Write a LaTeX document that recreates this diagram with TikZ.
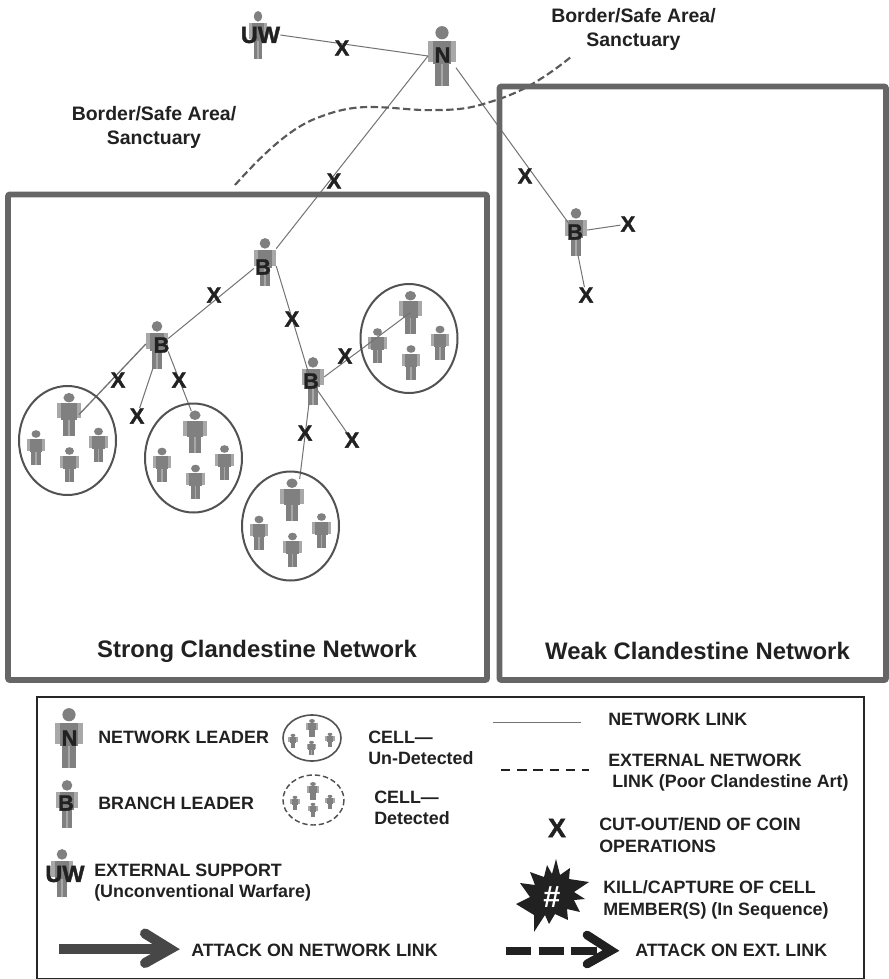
\documentclass[tikz,border=0pt]{standalone}
\usepackage{fontspec}
\setmainfont{Liberation Sans}
\newfontfamily\heavy[UprightFont={* Bold},FakeBold=1.6]{Liberation Sans}
\pgfdeclarelayer{icons}\pgfdeclarelayer{links}
\pgfsetlayers{icons,links,main}
\definecolor{ink}{gray}{0.13}
\definecolor{framec}{gray}{0.40}
\definecolor{iconc}{gray}{0.50}
\definecolor{iconl}{gray}{0.66}
\tikzset{
  frameline/.style={draw=framec,line width=4.4pt,rounded corners=1.5pt},
  cellline/.style={draw=black!68,line width=1.5pt},
  link/.style={draw=black!55,line width=0.75pt},
  border/.style={draw=black!65,line width=1.6pt,dash pattern=on 5.5pt off 2.6pt},
  personbox/.style={inner sep=0pt,outer sep=0pt,rectangle},
  xmark/.style={inner sep=0pt,text=ink,font=\heavy\fontsize{16.5}{16}\selectfont},
  tag/.style={inner sep=0pt,text=ink,font=\heavy\fontsize{16.5}{16}\selectfont},
  tagwide/.style={inner sep=0pt,text=ink,font=\heavy\fontsize{17.6}{18}\selectfont},
  title/.style={inner sep=0pt,text=ink,align=center,font=\bfseries\fontsize{14.6}{18}\selectfont},
  head/.style={inner sep=0pt,text=ink,font=\bfseries\fontsize{17.9}{20}\selectfont},
  lg/.style={inner sep=0pt,anchor=west,align=left,text=ink,font=\bfseries\fontsize{13.4}{16.2}\selectfont},
  fatarrow/.style={draw=black!72,line width=7.5pt},
  fatink/.style={draw=ink,line width=6.5pt}
}
\newcommand{\person}[5][1]{% [xscale] name, x, y, scale
  \node[personbox,minimum width={#5*21pt},minimum height={#5*44pt}] (#2) at (#3,#4) {};
  \begin{pgfonlayer}{icons}
  \begin{scope}[shift={(#3,#4)},scale=#5,xscale=#1]
    \fill[iconc] (0,-23.3) circle (6.6);
    \fill[iconl] (-13.8,-15.5) rectangle (13.8,5.5);
    \fill[iconl] (-6.8,5) rectangle (6.8,29.5);
    \fill[iconc] (-9,-15.5) rectangle (9,7.5);
    \fill[iconc] (-6.8,7) rectangle (-0.8,29.5);
    \fill[iconc] (0.8,7) rectangle (6.8,29.5);
  \end{scope}
  \end{pgfonlayer}
}
\newcommand{\cellgroup}[3]{% name, x, y
  \begin{scope}[shift={(#2,#3)}]
    \draw[cellline] (0,0) ellipse (48.5 and 54.5);
    \person[1.17]{#1big}{1.5}{-26}{0.72}
    \person[1.17]{#1l}{-31.5}{7}{0.58}
    \person[1.17]{#1b}{2}{24}{0.58}
    \person[1.17]{#1r}{31}{4.5}{0.58}
  \end{scope}
}
\newcommand{\minicell}[9]{% name big(x,y) l(x,y) b(x,y) r(x,y)
  \person[1.45]{#1big}{#2}{#3}{0.3}
  \person[1.5]{#1l}{#4}{#5}{0.24}
  \person[1.5]{#1b}{#6}{#7}{0.24}
  \person[1.5]{#1r}{#8}{#9}{0.24}
}
\begin{document}
\begin{tikzpicture}[x=0.75pt,y=-0.75pt]
\useasboundingbox (0,0) rectangle (889,979);
\begin{pgfonlayer}{icons}
\fill[white] (0,0) rectangle (889,979);
\end{pgfonlayer}

% frames
\draw[frameline] (8,194.5) rectangle (487,680);
\draw[frameline] (499.5,86.5) rectangle (886,680);

% people
\person[0.8]{uw}{258}{35}{0.8}
\person{n}{442}{56}{1}
\person{br}{576}{232}{0.8}
\person{bt}{265}{262}{0.8}
\person{bl}{157}{345}{0.8}
\person{bm}{313}{381}{0.8}
\cellgroup{ca}{67.5}{440.5}
\cellgroup{cb}{193.5}{458}
\cellgroup{cc}{290.5}{526}
\cellgroup{cd}{409}{338.5}

% labels on people
\node[tagwide] (luw) at (260.5,35) {UW};
\node[tag] (ln) at (442.5,55) {N};
\node[tag] (lbr) at (575,232) {B};
\node[tag] (lbt) at (263,267) {B};
\node[tag] (lbl) at (161.5,345) {B};
\node[tag] (lbm) at (311,381) {B};

% cut-outs
\node[xmark] (x1) at (342,48) {X};
\node[xmark] (x2) at (334,181) {X};
\node[xmark] (x3) at (525,176) {X};
\node[xmark] (x4) at (628,224) {X};
\node[xmark] (x5) at (586,295) {X};
\node[xmark] (x6) at (214,295) {X};
\node[xmark] (x7) at (292,319) {X};
\node[xmark] (x8) at (345,356) {X};
\node[xmark] (x9) at (118,380) {X};
\node[xmark] (x10) at (137,416) {X};
\node[xmark] (x11) at (179,380) {X};
\node[xmark] (x12) at (305,433) {X};
\node[xmark] (x13) at (352,440) {X};

% links
\begin{pgfonlayer}{links}
\draw[link] (luw.east) -- (n.west);
\draw[link] (n.west) -- (bt.50);
\draw[link] (n.-40) -- (lbr);
\draw[link] (br.10) -- (x4);
\draw[link] (br.-85) -- (x5);
\draw[link] (bt.-150) -- (bl.30);
\draw[link] (bt.-20) -- (lbm);
\draw[link,line width=1pt] (bl.175) -- (cabig.east);
\draw[link] (bl.-100) -- (x10);
\draw[link] (bl.-30) -- (cbbig.100);
\draw[link] (bm.20) -- (cdbig.center);
\draw[link] (lbm) -- (x13);
\draw[link] (bm.-100) -- (ccbig.70);
\coordinate (bd0) at (235,185);
\coordinate (bd1) at (317,118);
\coordinate (bd2) at (370,107);
\coordinate (bd3) at (437,110);
\coordinate (bd4) at (480,105);
\coordinate (bd5) at (527,87);
\coordinate (bd6) at (572,56);
\draw[border] (bd0) .. controls (262,155) and (290,128) .. (bd1)
  .. controls (335,111) and (350,107) .. (bd2)
  .. controls (395,107) and (415,111) .. (bd3)
  .. controls (452,110) and (466,109) .. (bd4)
  .. controls (497,100) and (510,96) .. (bd5)
  .. controls (545,77) and (560,66) .. (bd6);
\end{pgfonlayer}

% titles
\node[title] (t1) at (633.5,29) {Border/Safe Area/\\Sanctuary};
\node[title] (t2) at (154,127) {Border/Safe Area/\\Sanctuary};
\node[head] (t3) at (257,651) {Strong Clandestine Network};
\node[head] (t4) at (697.5,651) {Weak Clandestine Network};

% legend
\draw[draw=black!85,line width=1pt] (37,697) rectangle (864,979);
\person{kn}{69}{738}{1}
\node[tag] (kln) at (69.5,738) {N};
\person{kb}{67}{804}{0.8}
\node[tag] (klb) at (66,803) {B};
\person{kuw}{62}{873}{0.8}
\node[tagwide] (kluw) at (65,874) {UW};
\node[lg] (k1) at (98,737) {NETWORK LEADER};
\node[lg] (k2) at (98,803) {BRANCH LEADER};
\node[lg] (k3) at (94,882.5) {EXTERNAL SUPPORT\\(Unconventional Warfare)};

\draw[cellline,line width=1.2pt] (312,738) ellipse (29 and 23);
\minicell{ka}{312}{728}{293}{741}{311.5}{748}{330}{740}
\draw[cellline,line width=1.1pt,dash pattern=on 4pt off 2.2pt] (313.5,800) ellipse (30.5 and 25);
\minicell{kd}{313}{791}{295}{803}{313}{810}{330}{802}
\node[lg] (k4) at (368,748) {CELL---\\Un-Detected};
\node[lg] (k5) at (374,808) {CELL---\\Detected};

\node[inner sep=0pt] (a0) at (492,722) {};
\node[inner sep=0pt] (a1) at (582,722) {};
\draw[link] (a0) -- (a1);
\node[lg] (k6) at (608,719) {NETWORK LINK};
\node[inner sep=0pt] (b0) at (500,770) {};
\node[inner sep=0pt] (b1) at (590,770) {};
\draw[draw=ink,line width=1.1pt,dash pattern=on 7pt off 5.2pt] (b0) -- (b1);
\node[lg] (k7) at (608,772.5) {EXTERNAL NETWORK\\\hspace*{3pt}LINK (Poor Clandestine Art)};
\node[xmark,font=\heavy\fontsize{20}{20}\selectfont] (kx) at (557,828) {X};
\node[lg] (k8) at (599,835) {CUT-OUT/END OF COIN\\OPERATIONS};
\fill[ink,shift={(552,897)}] (4,-38) -- (8,-22) -- (18,-29) -- (17,-18) -- (37,-15) -- (22,-5) -- (33,2) -- (22,3) -- (28,15) -- (15,12) -- (16,23) -- (3,17) -- (-3,27) -- (-7,18) -- (-18,35) -- (-18,18) -- (-36,7) -- (-22,0) -- (-32,-14) -- (-17,-12) -- (-22,-25) -- (-8,-20) -- (-5,-32) -- (0,-23) -- cycle;
\node[inner sep=0pt,text=white,font=\bfseries\fontsize{23}{23}\selectfont] (kh) at (552,897) {\#};
\node[lg] (k9) at (603,900) {KILL/CAPTURE OF CELL\\MEMBER(S) (In Sequence)};

\node[inner sep=0pt] (c0) at (58,949) {};
\node[inner sep=0pt] (c1) at (170,949) {};
\draw[fatarrow] (c0) -- (c1);
\draw[fatarrow,line cap=round,line join=miter] (145,933.5) -- (170,949) -- (145,963);
\node[lg] (k10) at (191,950) {ATTACK ON NETWORK LINK};
\node[inner sep=0pt] (d0) at (505,951) {};
\node[inner sep=0pt] (d1) at (611,951) {};
\draw[fatink,dash pattern=on 19pt off 5.5pt] (d0) -- (d1);
\draw[fatink,line cap=round,line join=miter] (587,935) -- (611,950.5) -- (587,964);
\node[lg] (k11) at (635,950) {ATTACK ON EXT. LINK};
\end{tikzpicture}
\end{document}
